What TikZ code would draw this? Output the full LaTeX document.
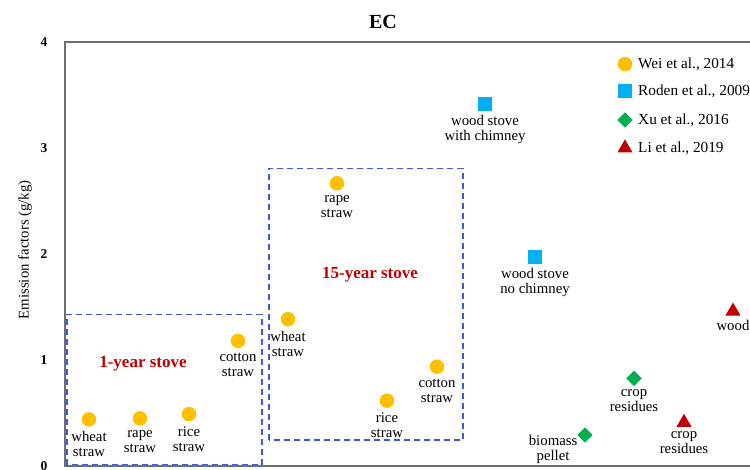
\documentclass[tikz,border=0pt]{standalone}
\usepackage{fontspec}
\setmainfont{Liberation Serif}
\usetikzlibrary{shapes.geometric,positioning}
\definecolor{weiorange}{RGB}{255,192,0}
\definecolor{rodenblue}{RGB}{0,176,240}
\definecolor{xugreen}{RGB}{0,176,80}
\definecolor{lired}{RGB}{192,0,0}
\definecolor{boxblue}{RGB}{60,90,225}
\definecolor{axisgray}{RGB}{110,110,110}

\tikzset{
    wei/.style={circle, fill=weiorange, inner sep=0pt, minimum size=14.5pt},
    roden/.style={rectangle, fill=rodenblue, inner sep=0pt, minimum size=14pt},
    xu/.style={diamond, fill=xugreen, inner sep=0pt, minimum size=15.5pt},
    li/.style={regular polygon, regular polygon sides=3, fill=lired, inner sep=0pt, minimum size=17.5pt},
    ptlabel/.style={align=center, inner sep=1pt, font=\fontsize{14.8}{15}\selectfont},
    legtext/.style={anchor=west, inner sep=0pt, font=\fontsize{15.3}{16}\selectfont},
    stovebox/.style={draw=boxblue, line width=1.1pt, dash pattern=on 6pt off 4pt},
    stovetext/.style={text=lired, font=\fontsize{17}{18}\selectfont\bfseries},
    ticklabel/.style={font=\fontsize{13.5}{14}\selectfont\bfseries}
}

\begin{document}
\begin{tikzpicture}[x=1pt, y=106pt]
    \useasboundingbox (-65pt,-3pt) rectangle (685pt,466pt);

    % Axes
    \draw[axisgray, line width=1.6pt] (685pt,0) -- (0,0) -- (0,4) -- (685pt,4);
    \foreach \y in {0,1,2,3,4} {
        \node[ticklabel] (tick\y) at (-21,\y) {\y};
    }
    \node[rotate=90, font=\fontsize{14.8}{15}\selectfont] (ylabel) at (-40,2.04) {Emission factors (g/kg)};
    \node[font=\fontsize{20}{22}\selectfont\bfseries] (title) at (318,4.19) {EC};

    % Stove age boxes
    \draw[stovebox] (2,0.01) rectangle (197,1.431);
    \node[stovetext] (oneyear) at (78,0.969) {1-year stove};
    \draw[stovebox] (204,0.245) rectangle (398,2.808);
    \node[stovetext] (fifteenyear) at (305,1.808) {15-year stove};

    % Wei et al., 2014
    \node[wei] (wheatA) at (24,0.44) {};
    \node[ptlabel, below=3.5pt of wheatA] {wheat\\straw};
    \node[wei] (rapeA) at (75,0.45) {};
    \node[ptlabel, below=3.5pt of rapeA] {rape\\straw};
    \node[wei] (riceA) at (124,0.49) {};
    \node[ptlabel, below=3.5pt of riceA] {rice\\straw};
    \node[wei] (cottonA) at (173,1.18) {};
    \node[ptlabel, below=3.5pt of cottonA] {cotton\\straw};
    \node[wei] (wheatB) at (223,1.385) {};
    \node[ptlabel, below=3.5pt of wheatB] {wheat\\straw};
    \node[wei] (rapeB) at (272,2.667) {};
    \node[ptlabel, below=3.5pt of rapeB] {rape\\straw};
    \node[wei] (riceB) at (322,0.616) {};
    \node[ptlabel, below=3.5pt of riceB] {rice\\straw};
    \node[wei] (cottonB) at (372,0.937) {};
    \node[ptlabel, below=3.5pt of cottonB] {cotton\\straw};

    % Roden et al., 2009
    \node[roden] (chimney) at (420,3.415) {};
    \node[ptlabel, below=3pt of chimney] {wood stove\\with chimney};
    \node[roden] (nochimney) at (470,1.972) {};
    \node[ptlabel, below=3pt of nochimney] {wood stove\\no chimney};

    % Xu et al., 2016
    \node[xu] (xucrop) at (569,0.827) {};
    \node[ptlabel, below=2.5pt of xucrop] {crop\\residues};
    \node[xu] (pellet) at (520,0.292) {};
    \node[ptlabel, left=-1.5pt of pellet, yshift=-14pt] {biomass\\pellet};

    % Li et al., 2019
    \node[li] (licrop) at (619,0.41) {};
    \node[ptlabel, below=3pt of licrop] {crop\\residues};
    \node[li] (liwood) at (668,1.46) {};
    \node[ptlabel, below=3pt of liwood] {wood};

    % Legend
    \node[wei] (legwei) at (560,3.792) {};
    \node[legtext] at (573,3.792) {Wei et al., 2014};
    \node[roden] (legroden) at (560,3.538) {};
    \node[legtext] at (573,3.538) {Roden et al., 2009};
    \node[xu] (legxu) at (560,3.264) {};
    \node[legtext] at (573,3.264) {Xu et al., 2016};
    \node[li] (legli) at (560,2.999) {};
    \node[legtext] at (573,2.999) {Li et al., 2019};
\end{tikzpicture}
\end{document}
